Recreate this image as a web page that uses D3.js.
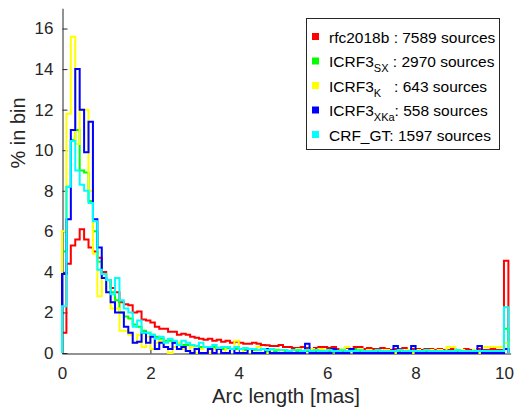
<!DOCTYPE html>
<html>
<head>
<meta charset="utf-8">
<script src="https://cdn.jsdelivr.net/npm/d3@7"></script>
<style>
  html, body { margin: 0; padding: 0; background: #fff; }
  svg { display: block; font-family: "Liberation Sans", Arial, Helvetica, sans-serif; }
  text { white-space: pre; }
</style>
</head>
<body>
<svg id="chart" width="516" height="407"></svg>
<script>
// ---------- data ----------
// histogram bins of width 0.1 mas from 0 to 10, last entry = overflow bin (>= 10 mas)
const binWidth = 0.1;
const xTicks = [0, 2, 4, 6, 8, 10];
const yTicks = [0, 2, 4, 6, 8, 10, 12, 14, 16];

const seriesNames = ["rfc2018b", "ICRF3_SX", "ICRF3_K", "ICRF3_XKa", "CRF_GT"];
const seriesCounts = [7589, 2970, 643, 558, 1597];

const rfc2018b = [
  1.0, 4.4, 5.3, 5.6, 6.1, 5.6, 5.2, 5.0, 4.7, 4.0,
  3.6, 3.2, 3.0, 2.5, 2.4, 2.35, 2.0, 2.05, 1.65, 1.6,
  1.5, 1.3, 1.2, 1.2, 1.05, 1.05, 0.9, 0.95, 0.9, 0.8,
  0.75, 0.7, 0.65, 0.7, 0.6, 0.65, 0.55, 0.6, 0.5, 0.55,
  0.5, 0.45, 0.45, 0.5, 0.45, 0.4, 0.38, 0.35, 0.35, 0.4,
  0.3, 0.3, 0.25, 0.25, 0.3, 0.25, 0.2, 0.25, 0.3, 0.3,
  0.25, 0.3, 0.2, 0.2, 0.25, 0.2, 0.3, 0.3, 0.2, 0.25,
  0.2, 0.2, 0.25, 0.2, 0.15, 0.2, 0.2, 0.25, 0.15, 0.2,
  0.2, 0.15, 0.2, 0.2, 0.15, 0.2, 0.15, 0.15, 0.2, 0.15,
  0.15, 0.2, 0.15, 0.15, 0.2, 0.15, 0.15, 0.2, 0.15, 0.15,
  4.55
];
const icrf3SX = [
  5.0, 8.2, 10.5, 11.0, 9.0, 8.9, 7.5, 6.0, 4.5, 3.9,
  3.6, 3.0, 2.6, 2.0, 1.8, 1.7, 1.4, 1.3, 1.1, 1.0,
  0.9, 0.8, 0.7, 0.6, 0.6, 0.5, 0.5, 0.4, 0.4, 0.35,
  0.35, 0.3, 0.3, 0.25, 0.3, 0.25, 0.2, 0.25, 0.2, 0.2,
  0.2, 0.15, 0.2, 0.15, 0.15, 0.2, 0.1, 0.15, 0.1, 0.15,
  0.1, 0.1, 0.15, 0.1, 0.1, 0.1, 0.15, 0.1, 0.05, 0.1,
  0.1, 0.05, 0.1, 0.1, 0.05, 0.1, 0.2, 0.1, 0.05, 0.1,
  0.05, 0.05, 0.1, 0.05, 0.05, 0.1, 0.05, 0.05, 0.05, 0.1,
  0.05, 0.05, 0.05, 0.1, 0.05, 0.05, 0.05, 0.05, 0.1, 0.05,
  0.05, 0.05, 0.05, 0.1, 0.05, 0.05, 0.05, 0.05, 0.05, 0.05,
  1.2
];
const icrf3K = [
  6.0, 11.8, 15.6, 10.3, 12.0, 12.0, 8.0, 4.9, 2.8, 3.9,
  3.0, 2.2, 2.2, 1.1, 1.1, 0.9, 0.5, 0.9, 0.3, 0.8,
  0.2, 0.5, 0.6, 0.3, 0.0, 0.3, 0.5, 0.2, 0.1, 0.3,
  0.0, 0.2, 0.3, 0.0, 0.2, 0.3, 0.0, 0.3, 0.2, 0.6,
  0.2, 0.0, 0.2, 0.0, 0.3, 0.2, 0.0, 0.15, 0.2, 0.0,
  0.15, 0.0, 0.15, 0.2, 0.0, 0.15, 0.2, 0.0, 0.2, 0.15,
  0.0, 0.15, 0.0, 0.2, 0.3, 0.15, 0.0, 0.2, 0.0, 0.15,
  0.0, 0.15, 0.0, 0.15, 0.0, 0.0, 0.15, 0.0, 0.15, 0.0,
  0.15, 0.0, 0.0, 0.15, 0.0, 0.15, 0.0, 0.3, 0.3, 0.0,
  0.15, 0.0, 0.0, 0.15, 0.0, 0.3, 0.3, 0.3, 0.3, 0.3,
  0.5
];
const icrf3XKa = [
  3.9, 6.6, 11.0, 14.0, 12.0, 9.9, 11.4, 6.6, 5.2, 3.7,
  3.0, 2.5, 2.0, 2.0, 1.3, 1.0, 0.5, 0.55, 1.0, 0.5,
  0.8, 0.2, 0.5, 0.3, 0.2, 0.5, 0.2, 0.3, 0.1, 0.0,
  0.2, 0.0, 0.0, 0.2, 0.0, 0.2, 0.0, 0.0, 0.2, 0.0,
  0.0, 0.0, 0.2, 0.0, 0.0, 0.0, 0.2, 0.0, 0.0, 0.0,
  0.0, 0.0, 0.0, 0.0, 0.0, 0.45, 0.0, 0.0, 0.0, 0.0,
  0.0, 0.2, 0.0, 0.0, 0.0, 0.2, 0.0, 0.0, 0.0, 0.0,
  0.0, 0.0, 0.0, 0.0, 0.0, 0.35, 0.0, 0.0, 0.0, 0.35,
  0.0, 0.0, 0.0, 0.0, 0.0, 0.0, 0.0, 0.0, 0.0, 0.0,
  0.0, 0.0, 0.0, 0.0, 0.35, 0.0, 0.0, 0.0, 0.0, 0.0,
  0.2
];
const crfGT = [
  2.3, 8.2, 10.45, 9.0, 8.3, 8.0, 7.4, 6.5, 4.1, 3.9,
  3.6, 2.9, 3.7, 2.6, 2.2, 2.0, 1.3, 1.6, 1.0, 1.0,
  0.9, 0.7, 0.8, 0.5, 0.7, 0.6, 0.4, 0.6, 0.5, 0.4,
  0.35, 0.5, 0.3, 0.3, 0.4, 0.25, 0.3, 0.3, 0.2, 0.3,
  0.2, 0.25, 0.2, 0.2, 0.15, 0.2, 0.15, 0.2, 0.15, 0.15,
  0.15, 0.1, 0.15, 0.15, 0.1, 0.15, 0.1, 0.15, 0.1, 0.1,
  0.15, 0.1, 0.1, 0.15, 0.1, 0.1, 0.1, 0.15, 0.1, 0.1,
  0.1, 0.15, 0.1, 0.1, 0.1, 0.1, 0.15, 0.1, 0.1, 0.1,
  0.1, 0.1, 0.15, 0.1, 0.1, 0.1, 0.1, 0.1, 0.1, 0.15,
  0.1, 0.1, 0.1, 0.1, 0.1, 0.1, 0.1, 0.1, 0.1, 0.1,
  2.25
];
const seriesValues = [rfc2018b, icrf3SX, icrf3K, icrf3XKa, crfGT];
const seriesColors = ["#ff0000", "#00ff00", "#ffff00", "#0000ff", "#00ffff"];

// ---------- layout ----------
const svg = d3.select("#chart");
const x = d3.scaleLinear().domain([0, 10.15]).range([62, 510.6]);
const y = d3.scaleLinear().domain([0, 17]).range([353, 8.25]);
const axisColor = "#262626";

// axes
const gx = svg.append("g").attr("transform", "translate(0,353.5)")
  .call(d3.axisBottom(x).tickValues(xTicks).tickFormat(d3.format("d"))
    .tickSizeInner(-5).tickSizeOuter(0).tickPadding(13));
const gy = svg.append("g").attr("transform", "translate(62.5,0)")
  .call(d3.axisLeft(y).tickValues(yTicks).tickFormat(d3.format("d"))
    .tickSizeInner(-5).tickSizeOuter(0).tickPadding(9));
[gx, gy].forEach(g => {
  g.select(".domain").attr("stroke", axisColor).attr("stroke-width", 1);
  g.selectAll(".tick line").attr("stroke", axisColor).attr("stroke-width", 1);
  g.selectAll(".tick text").attr("fill", axisColor)
    .style("font-size", "17px").style("font-family", "'Liberation Sans', Arial, sans-serif");
});

// axis labels
svg.append("text").attr("x", 286).attr("y", 403).attr("text-anchor", "middle")
  .attr("fill", axisColor).style("font-size", "20.5px").text("Arc length [mas]");
svg.append("text").attr("transform", "translate(25,133) rotate(-90)")
  .attr("text-anchor", "middle").attr("fill", axisColor)
  .style("font-size", "20px").text("% in bin");

// histograms (stairs)
const line = d3.line().x(d => x(d[0])).y(d => y(d[1]));
seriesValues.forEach((vals, si) => {
  const pts = [[0, 0]];
  vals.forEach((v, i) => {
    pts.push([i * binWidth, v]);
    pts.push([(i + 1) * binWidth, v]);
  });
  pts.push([vals.length * binWidth, 0]);
  svg.append("path").attr("d", line(pts))
    .attr("fill", "none").attr("stroke", seriesColors[si])
    .attr("stroke-width", 2).attr("stroke-linejoin", "miter");
});

// legend
const leg = svg.append("g");
leg.append("rect").attr("x", 306.5).attr("y", 18.5).attr("width", 193).attr("height", 131)
  .attr("fill", "#fff").attr("stroke", axisColor).attr("stroke-width", 1);
const rowY = [37, 61.5, 86, 110.5, 135];
const labelParts = [
  ["rfc2018b", "", " : " + seriesCounts[0] + " sources"],
  ["ICRF3", "SX", " : " + seriesCounts[1] + " sources"],
  ["ICRF3", "K", "   : " + seriesCounts[2] + " sources"],
  ["ICRF3", "XKa", ": " + seriesCounts[3] + " sources"],
  ["CRF_GT", "", ": " + seriesCounts[4] + " sources"]
];
labelParts.forEach((p, i) => {
  leg.append("rect").attr("x", 312).attr("y", rowY[i] - 4).attr("width", 7).attr("height", 7)
    .attr("fill", seriesColors[i]);
  const t = leg.append("text").attr("x", 329).attr("y", rowY[i] + 5.5)
    .attr("fill", "#000").style("font-size", "15.5px");
  t.append("tspan").text(p[0]);
  if (p[1]) {
    t.append("tspan").attr("dy", 5).style("font-size", "11px").text(p[1]);
    t.append("tspan").attr("dy", -5).text(p[2]);
  } else {
    t.append("tspan").text(p[2]);
  }
});
</script>
</body>
</html>
